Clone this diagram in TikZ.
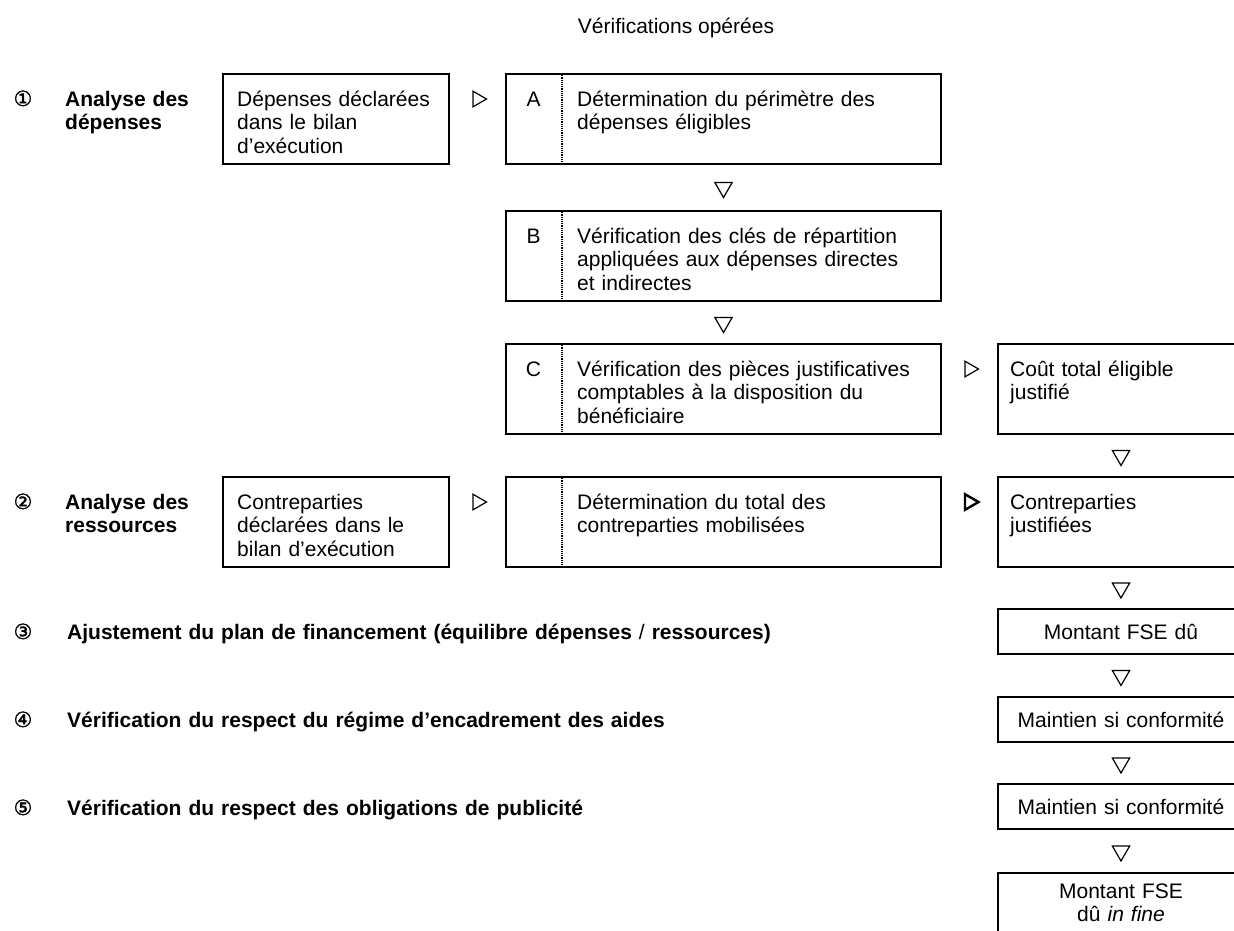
\documentclass[tikz,border=0pt]{standalone}
\usepackage{fontspec}
\setmainfont{Liberation Sans}
\newfontfamily\cercle{DejaVu Sans}[FakeBold=1.5]
\usetikzlibrary{shapes,arrows,positioning,calc}

\begin{document}
\begin{tikzpicture}[x=1pt,y=-1pt,
  font=\fontsize{21}{23.5}\selectfont,
  cadre/.style={draw, line width=2pt, inner sep=0pt, anchor=north west},
  txt/.style={anchor=base west, inner sep=0pt, text width=340pt, align=left},
  ctr/.style={anchor=base, inner sep=0pt, text width=230pt, align=center},
  etape/.style={anchor=base west, inner sep=0pt, text width=800pt, align=left,
    font=\fontsize{21}{23.5}\selectfont\bfseries},
  num/.style={anchor=base, inner sep=0pt, font=\fontsize{21}{23.5}\selectfont\cercle},
  lettre/.style={anchor=base, inner sep=0pt},
  sep/.style={densely dotted, line width=1.2pt},
  tri/.style={regular polygon, regular polygon sides=3, draw, line width=1.2pt, inner sep=0pt},
  versD/.style={tri, minimum size=18pt, shape border rotate=-90},
  versB/.style={tri, minimum size=20pt, shape border rotate=180}]
  \useasboundingbox (0,0) rectangle (1234,930);

  \node[anchor=base, inner sep=0pt] (titre) at (676,33) {Vérifications opérées};

  % 1 - analyse des depenses
  \node[num] (n1) at (23,106) {①};
  \node[etape] (e1) at (65,106) {Analyse des\\dépenses};
  \node[cadre, minimum width=226pt, minimum height=90pt] (depDecl) at (222,73) {};
  \node[txt] (tDepDecl) at ([xshift=15pt,yshift=-33pt]depDecl.north west) {Dépenses déclarées\\dans le bilan\\d’exécution};

  \node[cadre, minimum width=435pt, minimum height=90pt] (boxA) at (505,73) {};
  \node[cadre, minimum width=435pt, minimum height=90pt] (boxB) at (505,210) {};
  \node[cadre, minimum width=435pt, minimum height=90pt] (boxC) at (505,343) {};
  \foreach \b/\l in {boxA/A,boxB/B,boxC/C} {
    \draw[sep] ([xshift=57pt]\b.north west) -- ([xshift=57pt]\b.south west);
    \node[lettre] (l\l) at ([xshift=28.5pt,yshift=-33pt]\b.north west) {\l};
  }
  \node[txt] (tA) at ([xshift=72pt,yshift=-33pt]boxA.north west) {Détermination du périmètre des\\dépenses éligibles};
  \node[txt] (tB) at ([xshift=72pt,yshift=-33pt]boxB.north west) {Vérification des clés de répartition\\appliquées aux dépenses directes\\et indirectes};
  \node[txt] (tC) at ([xshift=72pt,yshift=-33pt]boxC.north west) {Vérification des pièces justificatives\\comptables à la disposition du\\bénéficiaire};

  \node[cadre, minimum width=246pt, minimum height=90pt] (cout) at (997,343) {};
  \node[txt] (tCout) at ([xshift=13pt,yshift=-33pt]cout.north west) {Coût total éligible\\justifié};

  \node[versD] (d1) at ($(depDecl.north east)!0.5!(boxA.north west)+(0,26)$) {};
  \node[versB] (v1) at ($(boxA.south)!0.5!(boxB.north)$) {};
  \node[versB] (v2) at ($(boxB.south)!0.5!(boxC.north)$) {};
  \node[versD] (d2) at ($(boxC.north east)!0.5!(cout.north west)+(0,26)$) {};

  % 2 - analyse des ressources
  \node[num] (n2) at (23,509) {②};
  \node[etape] (e2) at (65,509) {Analyse des\\ressources};
  \node[cadre, minimum width=226pt, minimum height=90pt] (ctrDecl) at (222,476) {};
  \node[txt] (tCtrDecl) at ([xshift=15pt,yshift=-33pt]ctrDecl.north west) {Contreparties\\déclarées dans le\\bilan d’exécution};
  \node[cadre, minimum width=435pt, minimum height=90pt] (ctrTot) at (505,476) {};
  \draw[sep] ([xshift=57pt]ctrTot.north west) -- ([xshift=57pt]ctrTot.south west);
  \node[txt] (tCtrTot) at ([xshift=72pt,yshift=-33pt]ctrTot.north west) {Détermination du total des\\contreparties mobilisées};
  \node[cadre, minimum width=246pt, minimum height=90pt] (ctrJust) at (997,476) {};
  \node[txt] (tCtrJust) at ([xshift=13pt,yshift=-33pt]ctrJust.north west) {Contreparties\\justifiées};

  \node[versB] (v3) at ($(cout.south)!0.5!(ctrJust.north)$) {};
  \node[versD] (d3) at ($(ctrDecl.north east)!0.5!(ctrTot.north west)+(0,26)$) {};
  \node[versD, line width=2.4pt] (d4) at ($(ctrTot.north east)!0.5!(ctrJust.north west)+(0,26)$) {};

  % 3, 4, 5 - ajustement et conformite
  \node[num] (n3) at (23,639) {③};
  \node[etape] (e3) at (67,639) {Ajustement du plan de financement (équilibre dépenses {\mdseries /} ressources)};
  \node[num] (n4) at (23,727) {④};
  \node[etape] (e4) at (67,727) {Vérification du respect du régime d’encadrement des aides};
  \node[num] (n5) at (23,815) {⑤};
  \node[etape] (e5) at (67,815) {Vérification du respect des obligations de publicité};

  \node[cadre, minimum width=246pt, minimum height=45pt] (fse) at (997,608) {};
  \node[ctr] (tFse) at ([yshift=-31pt]fse.north) {Montant FSE dû};
  \node[cadre, minimum width=246pt, minimum height=45pt] (maint1) at (997,696) {};
  \node[ctr] (tMaint1) at ([yshift=-31pt]maint1.north) {Maintien si conformité};
  \node[cadre, minimum width=246pt, minimum height=45pt] (maint2) at (997,783) {};
  \node[ctr] (tMaint2) at ([yshift=-31pt]maint2.north) {Maintien si conformité};
  \node[cadre, minimum width=246pt, minimum height=90pt] (fin) at (997,872) {};
  \node[ctr] (tFin) at ([yshift=-26pt]fin.north) {Montant FSE\\dû \textit{in fine}};

  \node[versB] (v4) at ($(ctrJust.south)!0.5!(fse.north)$) {};
  \node[versB] (v5) at ($(fse.south)!0.5!(maint1.north)$) {};
  \node[versB] (v6) at ($(maint1.south)!0.5!(maint2.north)$) {};
  \node[versB] (v7) at ($(maint2.south)!0.5!(fin.north)$) {};
\end{tikzpicture}
\end{document}
